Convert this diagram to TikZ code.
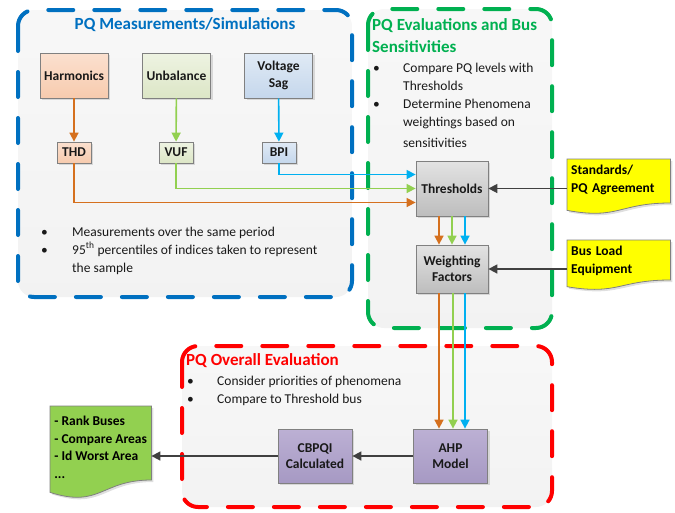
\documentclass[tikz,border=0pt]{standalone}
\usepackage{fontspec}
\setmainfont{Carlito}
\usetikzlibrary{arrows.meta,calc,shadows,backgrounds}
\definecolor{pqblue}{HTML}{0070C0}
\definecolor{pqgreen}{HTML}{00B050}
\definecolor{pqred}{HTML}{FF0000}
\definecolor{lnorange}{HTML}{D5701E}
\definecolor{lngreen}{HTML}{92D050}
\definecolor{lnblue}{HTML}{00B0F0}
\definecolor{lngray}{HTML}{404040}
\definecolor{harmtop}{HTML}{FBE0CF}
\definecolor{harmbot}{HTML}{F7CBAE}
\definecolor{unbtop}{HTML}{EEF3E2}
\definecolor{unbbot}{HTML}{DCE6C6}
\definecolor{sagtop}{HTML}{E0EAF5}
\definecolor{sagbot}{HTML}{C5D7EC}
\definecolor{evaltop}{HTML}{E3E3E3}
\definecolor{evalbot}{HTML}{BDBDBD}
\definecolor{ahptop}{HTML}{BCB0D4}
\definecolor{ahpbot}{HTML}{A699C3}
\definecolor{docyellow}{HTML}{FFFF00}
\definecolor{docgreen}{HTML}{92D050}
% document shape with a wavy bottom, drawn behind a text node
\newcommand*\docshape[3]{%
  \begin{pgfonlayer}{background}
  \path[docline, fill=#2]
    (#1.north west) -- (#1.north east) -- ($(#1.north east)+(0,#3)$)
    .. controls ($(#1.north)+(0,#3)$) and ($(#1.north)+(0,1.384*#3)$)
    .. ($(#1.north west)+(0,1.1675*#3)$) -- cycle;
  \end{pgfonlayer}}

\begin{document}
\begin{tikzpicture}[x=1pt,y=-1pt,
  frame/.style={line width=4pt, dash pattern=on 25pt off 21pt, line cap=round,
    rounded corners=16pt, top color=black!3, bottom color=black!5},
  title/.style={font=\bfseries\fontsize{17}{22}\selectfont, inner sep=0pt, align=left},
  bullets/.style={font=\fontsize{13.5}{18}\selectfont, inner sep=0pt, anchor=base west, text=black!90},
  box/.style={draw=black!50, line width=0.8pt, font=\bfseries\fontsize{13.5}{16.5}\selectfont,
    text=black!90, align=center, inner sep=1pt,
    drop shadow={opacity=0.25, shadow xshift=2pt, shadow yshift=-2pt}},
  bigbox/.style={box, minimum width=68pt, minimum height=45pt},
  smallbox/.style={box, minimum width=34pt, minimum height=21pt},
  evalbox/.style={box, minimum width=72pt, top color=evaltop, bottom color=evalbot},
  ahpbox/.style={box, minimum width=74pt, minimum height=54pt, top color=ahptop, bottom color=ahpbot},
  harmfill/.style={top color=harmtop, bottom color=harmbot},
  unbfill/.style={top color=unbtop, bottom color=unbbot},
  sagfill/.style={top color=sagtop, bottom color=sagbot},
  doc/.style={anchor=north west, align=left, text=black, inner xsep=4pt, inner ysep=6pt,
    font=\bfseries\fontsize{13.5}{17.5}\selectfont},
  docline/.style={draw=black!50, line width=0.8pt,
    drop shadow={opacity=0.25, shadow xshift=2pt, shadow yshift=-2pt}},
  link/.style={line width=1.6pt, -{Triangle[length=9pt,width=9pt]}},
]
\useasboundingbox (0,0) rectangle (675,512);

% the three regions
\draw[frame, draw=pqblue] (18,10) rectangle (352,297);
\draw[frame, draw=pqgreen] (368,9) rectangle (552,328);
\draw[frame, draw=pqred] (182,346) rectangle (552,507);

\node[title, text=pqblue] (measTitle) at (185,25) {PQ Measurements/Simulations};
\node[title, text=pqgreen, anchor=west] (evalTitle) at (372,36) {PQ Evaluations and Bus\\Sensitivities};
\node[title, text=pqred, anchor=west] (overallTitle) at (186,361) {PQ Overall Evaluation};

\node[bullets] (measNotes) at (41,236) {\begin{tabular}[t]{@{}p{31pt}@{}l@{}}
  \textbullet & Measurements over the same period\\
  \textbullet & 95\textsuperscript{th} percentiles of indices taken to represent\\
              & the sample
  \end{tabular}};
\node[bullets] (evalNotes) at (373,72) {\begin{tabular}[t]{@{}p{30pt}@{}l@{}}
  \textbullet & Compare PQ levels with\\
              & Thresholds\\
  \textbullet & Determine Phenomena\\
              & weightings based on\\[3pt]
              & sensitivities
  \end{tabular}};
\node[bullets] (overallNotes) at (187,385) {\begin{tabular}[t]{@{}p{30pt}@{}l@{}}
  \textbullet & Consider priorities of phenomena\\
  \textbullet & Compare to Threshold bus
  \end{tabular}};

% measurements
\node[bigbox, harmfill] (harmonics) at (74,75.5) {Harmonics};
\node[bigbox, unbfill] (unbalance) at (176.5,75.5) {Unbalance};
\node[bigbox, sagfill] (sag) at (278.5,75.5) {Voltage\\Sag};
\node[smallbox, harmfill] (thd) at (74,152.5) {THD};
\node[smallbox, unbfill] (vuf) at (176,152.5) {VUF};
\node[smallbox, sagfill] (bpi) at (279,152.5) {BPI};

% evaluation
\node[evalbox, minimum height=55pt] (thresholds) at (452,188.5) {Thresholds};
\node[evalbox, minimum height=48pt] (weighting) at (452,269) {Weighting\\Factors};
\node[ahpbox] (ahp) at (450.5,456) {AHP\\Model};
\node[ahpbox] (cbpqi) at (315,456) {CBPQI\\Calculated};

% documents
\node[doc, text width=95pt] (standards) at (567,159) {Standards/\\PQ Agreement};
\docshape{standards}{docyellow}{44}
\node[doc, text width=95pt] (busload) at (567,240) {Bus Load\\Equipment};
\docshape{busload}{docyellow}{40}
\node[doc, minimum width=101pt, inner xsep=2pt, inner ysep=10pt] (results) at (50,406)
  {- Rank Buses\\- Compare Areas\\- Id Worst Area\\...};
\docshape{results}{docgreen}{74}

% connectors
\draw[link, lnorange] (harmonics) -- (thd);
\draw[link, lngreen] (unbalance) -- (vuf);
\draw[link, lnblue] (sag) -- (bpi);
\draw[link, lnblue] (bpi.south) |- ($(thresholds.west)+(0,-14)$);
\draw[link, lngreen] (vuf.south) |- (thresholds.west);
\draw[link, lnorange] (thd.south) |- ($(thresholds.west)+(0,14)$);

\draw[link, lnorange] ([xshift=-13pt]thresholds.south) -- ([xshift=-13pt]weighting.north);
\draw[link, lngreen] (thresholds.south) -- (weighting.north);
\draw[link, lnblue] ([xshift=13pt]thresholds.south) -- ([xshift=13pt]weighting.north);

\draw[link, lnorange] ([xshift=-13pt]weighting.south) -- ([xshift=-13pt]weighting.south |- ahp.north);
\draw[link, lngreen] ([xshift=1pt]weighting.south) -- ([xshift=1pt]weighting.south |- ahp.north);
\draw[link, lnblue] ([xshift=13pt]weighting.south) -- ([xshift=13pt]weighting.south |- ahp.north);

\draw[link, lngray] (standards.west |- thresholds.east) -- (thresholds.east);
\draw[link, lngray] (busload.west |- weighting.east) -- (weighting.east);
\draw[link, lngray] (ahp) -- (cbpqi);
\draw[link, lngray] (cbpqi.west) -- (cbpqi.west -| results.east);
\end{tikzpicture}
\end{document}
